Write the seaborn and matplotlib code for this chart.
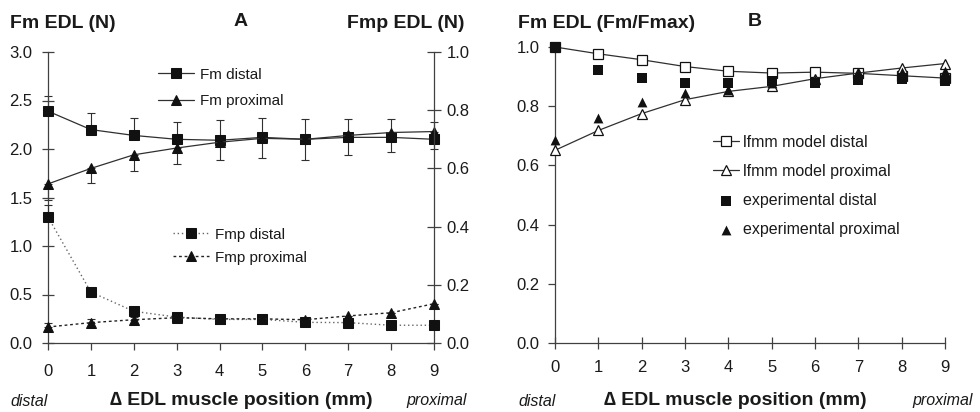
import numpy as np
import pandas as pd
import matplotlib
matplotlib.use("Agg")
import matplotlib.pyplot as plt
import seaborn as sns

# ---------------- data ----------------
positions = [0, 1, 2, 3, 4, 5, 6, 7, 8, 9]

# Panel A (left axis, N)
fm_distal = [2.39, 2.20, 2.14, 2.10, 2.09, 2.12, 2.10, 2.12, 2.12, 2.10]
fm_distal_err = [0.16, 0.17, 0.18, 0.18, 0.21, 0.20, 0.21, 0.19, 0.19, 0.18]
fm_proximal = [1.64, 1.80, 1.94, 2.01, 2.07, 2.11, 2.10, 2.14, 2.17, 2.18]
fm_proximal_err = [0.17, 0.15, 0.17, 0.16, 0.18, 0.20, 0.21, 0.20, 0.20, 0.18]

# Panel A (right axis, N)
fmp_distal = [0.433, 0.175, 0.109, 0.089, 0.081, 0.081, 0.071, 0.070, 0.061, 0.061]
fmp_distal_err = [0.040, 0.0, 0.0, 0.0, 0.0, 0.0, 0.0, 0.0, 0.0, 0.0]
fmp_proximal = [0.055, 0.070, 0.080, 0.087, 0.083, 0.083, 0.080, 0.093, 0.104, 0.135]
fmp_proximal_err = [0.015, 0.012, 0.010, 0.0, 0.0, 0.0, 0.0, 0.0, 0.0, 0.0]

# Panel B (Fm/Fmax)
model_distal = [1.000, 0.977, 0.957, 0.934, 0.918, 0.912, 0.915, 0.911, 0.903, 0.895]
model_proximal = [0.651, 0.718, 0.775, 0.822, 0.850, 0.867, 0.893, 0.912, 0.929, 0.944]
exp_distal = [1.000, 0.923, 0.894, 0.880, 0.880, 0.884, 0.880, 0.887, 0.892, 0.884]
exp_proximal = [0.687, 0.760, 0.813, 0.845, 0.855, 0.880, 0.890, 0.912, 0.914, 0.918]

left_ticks_A = [0.0, 0.5, 1.0, 1.5, 2.0, 2.5, 3.0]
right_ticks_A = [0.0, 0.2, 0.4, 0.6, 0.8, 1.0]
ticks_B = [0.0, 0.2, 0.4, 0.6, 0.8, 1.0]

# ---------------- style ----------------
sns.set_style("ticks")
plt.rcParams["font.family"] = ["Liberation Sans", "DejaVu Sans"]
TXT = "#1a1a1a"
AX = "#404040"
LN = "#303030"
zeros = [0.0] * len(positions)

fig = plt.figure(figsize=(9.8, 4.12), dpi=100)
axA = fig.add_axes([48 / 980, 1 - 343 / 412, (434 - 48) / 980, (343 - 52) / 412])
axB = fig.add_axes([555 / 980, 1 - 343 / 412, (945 - 555) / 980, (343 - 47) / 412])

# ---------------- panel A ----------------
dfA = pd.DataFrame({"x": positions, "fd": fm_distal, "fp": fm_proximal,
                    "pd": fmp_distal, "pp": fmp_proximal})

eb = dict(fmt="none", ecolor=LN, elinewidth=0.8, capsize=3.2, capthick=0.8,
          clip_on=False, zorder=2)
axA.errorbar(positions, fm_distal, yerr=[zeros, fm_distal_err], **eb)
axA.errorbar(positions, fm_proximal, yerr=[fm_proximal_err, zeros], **eb)
sns.lineplot(data=dfA, x="x", y="fd", ax=axA, color=LN, lw=0.9, marker="s",
             markersize=7, markerfacecolor="#111111", markeredgecolor="#111111",
             label="Fm distal", clip_on=False, zorder=3)
sns.lineplot(data=dfA, x="x", y="fp", ax=axA, color=LN, lw=0.9, marker="^",
             markersize=7, markerfacecolor="#111111", markeredgecolor="#111111",
             label="Fm proximal", clip_on=False, zorder=3)

axA2 = axA.twinx()
axA2.errorbar(positions, fmp_distal, yerr=[zeros, fmp_distal_err], **eb)
axA2.errorbar(positions, fmp_proximal, yerr=[zeros, fmp_proximal_err], **eb)
sns.lineplot(data=dfA, x="x", y="pd", ax=axA2, color="#666666", lw=1.0,
             linestyle=(0, (1, 2)), marker="s", markersize=7,
             markerfacecolor="#111111", markeredgecolor="#111111",
             label="Fmp distal", clip_on=False, zorder=3)
sns.lineplot(data=dfA, x="x", y="pp", ax=axA2, color="#222222", lw=1.0,
             linestyle=(0, (2, 2)), marker="^", markersize=7,
             markerfacecolor="#111111", markeredgecolor="#111111",
             label="Fmp proximal", clip_on=False, zorder=3)

axA.set_xlim(0, 9)
axA.set_ylim(0, 3.0)
axA2.set_ylim(0, 1.0)
axA.set_xticks(positions)
axA.set_yticks(left_ticks_A)
axA.set_yticklabels([f"{v:.1f}" for v in left_ticks_A])
axA2.set_yticks(right_ticks_A)
axA2.set_yticklabels([f"{v:.1f}" for v in right_ticks_A])
axA.set_xlabel("")
axA.set_ylabel("")
axA2.set_ylabel("")

for a in (axA, axA2):
    a.spines["top"].set_visible(False)
    for s in a.spines.values():
        s.set_color(AX)
        s.set_linewidth(0.9)
axA.spines["right"].set_visible(False)
axA2.spines["left"].set_visible(False)
axA2.spines["bottom"].set_visible(False)
axA.tick_params(axis="y", direction="inout", length=8, width=0.9, color=AX,
                labelsize=12, labelcolor=TXT, pad=7)
axA.tick_params(axis="x", direction="out", length=5, width=0.9, color=AX,
                labelsize=12, labelcolor=TXT, pad=10)
axA2.tick_params(axis="y", direction="inout", length=10, width=0.9, color=AX,
                 labelsize=12, labelcolor=TXT, pad=4)

axA.legend(loc="upper left", bbox_to_anchor=(150 / 980, 1 - 60 / 412),
           bbox_transform=fig.transFigure, frameon=False, fontsize=11,
           handlelength=2.4, handletextpad=0.4, labelspacing=0.8,
           borderpad=0, labelcolor=TXT)
axA2.legend(loc="upper left", bbox_to_anchor=(165 / 980, 1 - 220 / 412),
            bbox_transform=fig.transFigure, frameon=False, fontsize=11,
            handlelength=2.4, handletextpad=0.4, labelspacing=0.6,
            borderpad=0, labelcolor=TXT)

# ---------------- panel B ----------------
dfB = pd.DataFrame({"x": positions, "md": model_distal, "mp": model_proximal,
                    "ed": exp_distal, "ep": exp_proximal})
sns.lineplot(data=dfB, x="x", y="md", ax=axB, color=LN, lw=0.9, marker="s",
             markersize=6.5, markerfacecolor="white", markeredgecolor="#111111",
             markeredgewidth=0.9, label="lfmm model distal", clip_on=False, zorder=3)
sns.lineplot(data=dfB, x="x", y="mp", ax=axB, color=LN, lw=0.9, marker="^",
             markersize=6.5, markerfacecolor="white", markeredgecolor="#111111",
             markeredgewidth=0.9, label="lfmm model proximal", clip_on=False, zorder=3)
sns.scatterplot(data=dfB, x="x", y="ed", ax=axB, marker="s", s=45, color="#111111",
                edgecolor="#111111", linewidth=0, label="experimental distal",
                clip_on=False, zorder=4)
sns.scatterplot(data=dfB, x="x", y="ep", ax=axB, marker="^", s=50, color="#111111",
                edgecolor="#111111", linewidth=0, label="experimental proximal",
                clip_on=False, zorder=4)

axB.set_xlim(0, 9)
axB.set_ylim(0, 1.0)
axB.set_xticks(positions)
axB.set_yticks(ticks_B)
axB.set_yticklabels([f"{v:.1f}" for v in ticks_B])
axB.set_xlabel("")
axB.set_ylabel("")
axB.spines["top"].set_visible(False)
axB.spines["right"].set_visible(False)
for s in axB.spines.values():
    s.set_color(AX)
    s.set_linewidth(0.9)
axB.tick_params(axis="y", direction="out", length=5, width=0.9, color=AX,
                labelsize=12, labelcolor=TXT, pad=6)
axB.tick_params(axis="x", direction="inout", length=8, width=0.9, color=AX,
                labelsize=12, labelcolor=TXT, pad=8)
axB.legend(loc="upper left", bbox_to_anchor=(705 / 980, 1 - 127 / 412),
           bbox_transform=fig.transFigure, frameon=False, fontsize=11.5,
           handlelength=1.6, handletextpad=0.25, labelspacing=0.88,
           borderpad=0, labelcolor=TXT)

# ---------------- texts ----------------
bold = dict(fontsize=14, fontweight="bold", color=TXT, va="center")
fig.text(10 / 980, 1 - 24 / 412, "Fm EDL (N)", ha="left", **bold)
fig.text(241 / 980, 1 - 22 / 412, "A", ha="center", **bold)
fig.text(464 / 980, 1 - 24 / 412, "Fmp EDL (N)", ha="right", **bold)
fig.text(518 / 980, 1 - 24 / 412, "Fm EDL (Fm/Fmax)", ha="left", **bold)
fig.text(755 / 980, 1 - 22 / 412, "B", ha="center", **bold)

fig.text(241 / 980, 1 - 400 / 412, "\u2206 EDL muscle position (mm)", ha="center", **bold)
fig.text(735 / 980, 1 - 400 / 412, "\u2206 EDL muscle position (mm)", ha="center", **bold)
ital = dict(fontsize=11.5, style="italic", color=TXT, va="center")
fig.text(10 / 980, 1 - 401 / 412, "distal", ha="left", **ital)
fig.text(467 / 980, 1 - 401 / 412, "proximal", ha="right", **ital)
fig.text(518 / 980, 1 - 401 / 412, "distal", ha="left", **ital)
fig.text(973 / 980, 1 - 401 / 412, "proximal", ha="right", **ital)

fig.savefig("out.png", dpi=100)
